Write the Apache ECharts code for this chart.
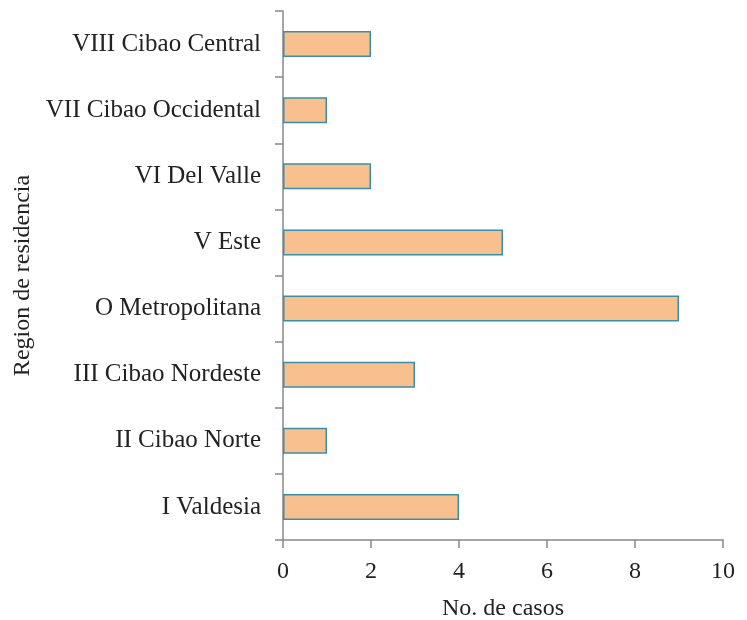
<!DOCTYPE html>
<html><head><meta charset="utf-8">
<script src="https://cdn.jsdelivr.net/npm/echarts@6/dist/echarts.min.js"></script>
<style>html,body{margin:0;padding:0;background:#fff}#c{width:747px;height:620px}</style>
</head><body><div id="c"></div>
<script>
var categories = ["I Valdesia","II Cibao Norte","III Cibao Nordeste","O Metropolitana","V Este","VI Del Valle","VII Cibao Occidental","VIII Cibao Central"];
var casos = [4,1,3,9,5,2,1,2];
var xTicks = [0,2,4,6,8,10];
var font = "Liberation Serif";
var chart = echarts.init(document.getElementById('c'));
chart.setOption({
  animation:false,
  grid:{left:283,right:24,top:11,bottom:80,containLabel:false,outerBoundsMode:'none'},
  xAxis:{type:'value',min:xTicks[0],max:xTicks[xTicks.length-1],interval:2,
    name:'No. de casos',nameLocation:'middle',nameGap:57,
    nameTextStyle:{fontFamily:font,fontSize:24,color:'#222'},
    axisLine:{show:true,lineStyle:{color:'#888',width:1.5}},
    axisTick:{show:true,length:8,lineStyle:{color:'#888',width:1.5}},
    axisLabel:{fontFamily:font,fontSize:24,color:'#222',margin:20},
    splitLine:{show:false}},
  yAxis:{type:'category',data:categories,
    name:'Region de residencia',nameLocation:'middle',nameGap:248,
    nameTextStyle:{fontFamily:font,fontSize:24,color:'#222'},
    axisLine:{show:true,lineStyle:{color:'#888',width:1.5}},
    axisTick:{show:true,length:8,alignWithLabel:false,lineStyle:{color:'#888',width:1.5}},
    axisLabel:{fontFamily:font,fontSize:25,color:'#222',margin:22},
    splitLine:{show:false}},
  series:[{type:'bar',data:casos,barWidth:26,
    itemStyle:{color:'#F9C08F',borderColor:'#3A8FA8',borderWidth:1.5}}]
});
</script></body></html>
